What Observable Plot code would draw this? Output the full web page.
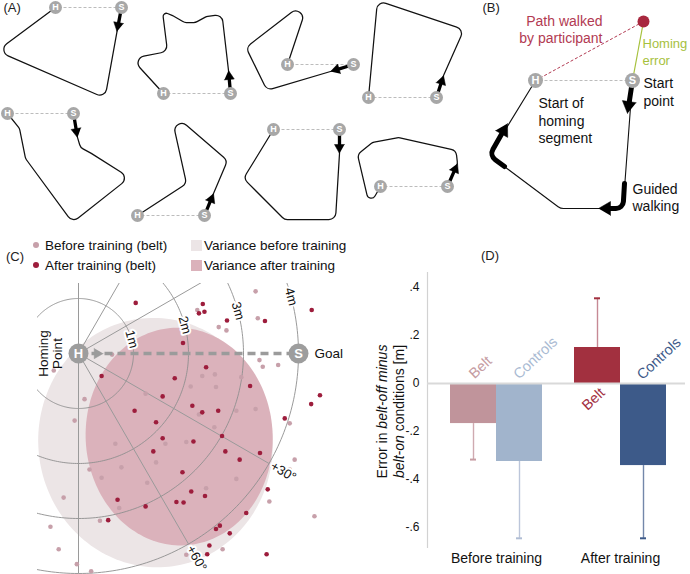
<!DOCTYPE html>
<html>
<head>
<meta charset="utf-8">
<script src="https://cdn.jsdelivr.net/npm/d3@7"></script>
<script src="https://cdn.jsdelivr.net/npm/@observablehq/plot@0.6"></script>
<style>
  html, body { margin: 0; padding: 0; background: #fff; }
  #fig { position: relative; width: 690px; height: 574px; overflow: hidden;
         font-family: "Liberation Sans", Arial, Helvetica, sans-serif; color: #111; }
  .layer { position: absolute; }
  .layer svg { display: block; max-width: none; }
  .lbl { position: absolute; white-space: nowrap; line-height: 1; }
  .sw { position: absolute; }
</style>
</head>
<body>
<div id="fig"></div>
<script>
// ======================= DATA =======================
// Panel A – eight guided routes (schematic drawing units)
const routeStart = [[121,7],[230,93],[353,64],[436,97],[73,113],[204,215],[339,129],[447,186]];   // S
const routeHome  = [[55,7],[163,93],[287,64],[368,97],[7,113],[137,215],[273,129],[380,186]];     // H
const routeArrowTip = [[116.5,31],[228,70],[330,71],[443,75],[77,137],[213,193],[339,153],[457,163]];
const routeBends = [
  [[104.5,97.5],[-3.5,50.5]],
  [[221.5,14],[206,16],[195,22],[184,22],[172,15],[162,11],[167,51],[131,58]],
  [[266.5,89.7],[245.5,47],[309,-2]],
  [[463.5,29],[377,0]],
  [[80,147],[91,153],[129,177],[72,222],[25,158],[19,128]],
  [[227,160],[170,111],[186,183]],
  [[335,219],[284,219],[243,178]],
  [[455.5,150],[398,137],[372,142],[357,154],[369,205]]
];

// Panel B – explanatory route (schematic drawing units)
const bStart = [632,80];
const bHome = [535,80];
const bEnd = [643,21];
const bBends = [[622.5,208],[560,208],[489,155]];
const bGuidedArrows = [
  [[632,80],[627,113]],
  [[624,183],[622.5,208],[598,208]],
  [[504,166],[489,155],[507,123]]
];

// Panel C – homing end points relative to the homing point, metres
const beforeDots = [
  [0.61,0.02],[-0.45,0.31],[2.04,0.60],[1.22,0.73],[0.11,0.83],[-0.07,1.22],[3.22,-1.13],[2.16,-0.79],
  [3.26,-0.64],[2.55,-0.48],[2.69,-0.42],[3.29,0.12],[3.35,0.24],[3.63,0.21],[2.48,0.38],[2.25,0.41],
  [2.50,0.61],[2.96,0.43],[2.19,1.11],[2.87,1.04],[3.22,1.01],[3.84,1.27],[2.47,1.34],[1.58,1.64],
  [1.96,1.61],[0.67,1.64],[1.41,1.98],[0.78,2.07],[0.20,2.11],[0.42,2.26],[1.25,2.35],[-0.27,2.62],
  [0.74,2.81],[0.39,3.04],[-0.51,3.15],[-0.36,3.56],[1.96,3.66],[-0.03,3.83],[0.23,3.96],[3.93,1.93],
  [3.84,2.11],[2.87,2.28],[2.32,2.45],[3.47,2.69],[4.29,2.96],[2.62,3.56]
];
const afterDots = [
  [1.04,-0.92],[1.90,-0.19],[0.42,0.41],[1.75,0.45],[1.53,0.78],[2.07,0.95],[1.02,1.04],[1.41,1.25],
  [2.26,-0.90],[2.19,-0.73],[2.29,-0.76],[4.24,-0.79],[2.70,-0.60],[3.39,-0.59],[2.32,0.25],[3.12,0.59],
  [4.39,0.76],[4.23,0.92],[2.25,1.07],[2.54,1.04],[3.75,1.18],[1.53,1.54],[2.09,1.60],[1.36,1.78],
  [1.89,2.16],[2.05,2.51],[0.71,2.66],[1.78,2.70],[1.91,2.71],[1.22,2.78],[0.54,3.03],[2.61,1.50],
  [2.67,1.78],[3.30,1.81],[2.93,1.93],[2.30,2.59],[3.44,2.47],[3.05,2.90],[2.57,3.13],[2.50,3.19],
  [2.75,3.27],[2.38,3.49],[2.34,3.65],[3.42,3.65]
];
const varianceBefore = {cx: 1.40, cy: 1.62, rx: 2.13, ry: 2.27, tilt: -8};
const varianceAfter  = {cx: 1.83, cy: 1.51, rx: 1.70, ry: 1.98, tilt: -3};
const ringRadii = [1, 2, 3, 4];
const radialAngles = [-90, -60, -30, 30, 60, 90];
const angleTickLabels = [30, 60];
const goalDistance = 4;

// Panel D – error difference (belt-off minus belt-on), metres
const dPhases = ["Before training", "After training"];
const dGroups = ["Belt", "Controls"];
const dMean   = [-0.167, -0.325, 0.150, -0.342];   // Before/Belt, Before/Controls, After/Belt, After/Controls
const dErrEnd = [-0.317, -0.645, 0.355, -0.645];
const dYTicks = [0.4, 0.2, 0, -0.2, -0.4, -0.6];

// ======================= HELPERS =======================
const FONT = '"Liberation Sans", Arial, Helvetica, sans-serif';
const deg = Math.PI / 180;

function roundedCurve(radius) {
  return function (context) {
    let pts = [];
    return {
      areaStart() {}, areaEnd() {},
      lineStart() { pts = []; },
      point(x, y) { pts.push([+x, +y]); },
      lineEnd() {
        const n = pts.length;
        if (!n) return;
        context.moveTo(pts[0][0], pts[0][1]);
        for (let i = 1; i < n - 1; i++) {
          const [x0, y0] = pts[i - 1], [x1, y1] = pts[i], [x2, y2] = pts[i + 1];
          const l1 = Math.hypot(x0 - x1, y0 - y1), l2 = Math.hypot(x2 - x1, y2 - y1);
          if (l1 < 1e-6 || l2 < 1e-6) { context.lineTo(x1, y1); continue; }
          const c = ((x0 - x1) * (x2 - x1) + (y0 - y1) * (y2 - y1)) / (l1 * l2);
          const ang = Math.acos(Math.max(-1, Math.min(1, c)));
          const r = Math.min(radius, (Math.min(l1, l2) / 2) * Math.tan(ang / 2));
          if (ang > Math.PI - 1e-3 || !(r > 0.05)) context.lineTo(x1, y1);
          else context.arcTo(x1, y1, x2, y2, r);
        }
        if (n > 1) context.lineTo(pts[n - 1][0], pts[n - 1][1]);
      }
    };
  };
}

function arrowParts(id, pts, headLen, headWidth) {
  const n = pts.length, [tx, ty] = pts[n - 1], [px, py] = pts[n - 2];
  const L = Math.hypot(tx - px, ty - py), ux = (tx - px) / L, uy = (ty - py) / L;
  const bx = tx - ux * headLen, by = ty - uy * headLen;
  const shaft = pts.slice(0, n - 1).concat([[bx + ux * 1.5, by + uy * 1.5]]).map(([x, y]) => ({id, x, y}));
  const hw = headWidth / 2;
  const head = [[tx, ty], [bx - uy * hw, by + ux * hw], [bx + uy * hw, by - ux * hw]].map(([x, y]) => ({id, x, y}));
  return {shaft, head};
}

function halo(data, opts) {
  return [
    Plot.text(data, {...opts, fill: "white", stroke: "white", strokeWidth: 4, strokeLinejoin: "round"}),
    Plot.text(data, opts)
  ];
}

const fig = document.getElementById("fig");
function layer(el, left, top, w, h) {
  const d = document.createElement("div");
  d.className = "layer";
  d.style.left = left + "px"; d.style.top = top + "px";
  d.style.width = w + "px"; d.style.height = h + "px";
  d.appendChild(el);
  fig.appendChild(d);
}
function html(tag, cls, css, content) {
  const e = document.createElement(tag);
  e.className = cls;
  e.setAttribute("style", css);
  if (content != null) e.innerHTML = content;
  fig.appendChild(e);
  return e;
}

// ======================= PANELS A + B =======================
const routePts = routeStart.flatMap((s, i) =>
  [s, routeArrowTip[i], ...routeBends[i], routeHome[i]].map(([x, y]) => ({id: i, x, y})));
const aArrows = routeStart.map((s, i) => arrowParts(i, [s, routeArrowTip[i]], 9, 10));
const bPathPts = [bStart, ...bBends, bHome].map(([x, y]) => ({id: 0, x, y}));
const bArrows = bGuidedArrows.map((p, i) => arrowParts(i, p, 12, 14));

const abMarkers = [
  ...routeStart.map(([x, y]) => ({x, y, t: "S"})),
  ...routeHome.map(([x, y]) => ({x, y, t: "H"}))
];
const bMarkers = [{x: bStart[0], y: bStart[1], t: "S"}, {x: bHome[0], y: bHome[1], t: "H"}];
const purple = "#b23a52", green = "#a6c13d", grayDot = "#a7a7a7";

const abPlot = Plot.plot({
  width: 690, height: 230, marginTop: 0, marginRight: 0, marginBottom: 0, marginLeft: 0,
  x: {domain: [0, 690], range: [0, 690], axis: null},
  y: {domain: [0, 230], range: [0, 230], axis: null},
  style: {fontFamily: FONT, background: "transparent", overflow: "visible"},
  marks: [
    // Panel A
    Plot.link(routeStart.map((s, i) => ({s, h: routeHome[i]})), {
      x1: d => d.s[0], y1: d => d.s[1], x2: d => d.h[0], y2: d => d.h[1],
      stroke: "#bcbcbc", strokeWidth: 1, strokeDasharray: "3,2"}),
    Plot.line(routePts, {x: "x", y: "y", z: "id", curve: roundedCurve(7), stroke: "#111", strokeWidth: 1.25}),
    Plot.line(aArrows.flatMap(a => a.shaft), {x: "x", y: "y", z: "id", stroke: "#000", strokeWidth: 3.3}),
    Plot.line(aArrows.flatMap(a => a.head), {x: "x", y: "y", z: "id", fill: "#000", stroke: "#000", strokeWidth: 0.5}),
    Plot.dot(abMarkers, {x: "x", y: "y", r: 6.5, fill: grayDot, stroke: "none"}),
    Plot.text(abMarkers, {x: "x", y: "y", text: "t", fill: "white", fontWeight: "bold", fontSize: 9}),
    Plot.text(["(A)"], {frameAnchor: "top-left", dx: 3, dy: 2, textAnchor: "start", lineAnchor: "top", fontSize: 13, fill: "#222"}),

    // Panel B
    Plot.link([0], {x1: bStart[0], y1: bStart[1], x2: bHome[0], y2: bHome[1], stroke: "#bcbcbc", strokeWidth: 1, strokeDasharray: "3,2"}),
    Plot.link([0], {x1: bHome[0], y1: bHome[1], x2: bEnd[0], y2: bEnd[1], stroke: purple, strokeWidth: 1, strokeDasharray: "3,2"}),
    Plot.link([0], {x1: bStart[0], y1: bStart[1], x2: bEnd[0], y2: bEnd[1], stroke: green, strokeWidth: 1.2}),
    Plot.line(bPathPts, {x: "x", y: "y", z: "id", curve: roundedCurve(9), stroke: "#111", strokeWidth: 1.1}),
    Plot.line(bArrows.flatMap(a => a.shaft), {x: "x", y: "y", z: "id", curve: roundedCurve(8), stroke: "#000", strokeWidth: 5}),
    Plot.line(bArrows.flatMap(a => a.head), {x: "x", y: "y", z: "id", fill: "#000", stroke: "#000", strokeWidth: 0.5}),
    Plot.dot([bEnd], {x: d => d[0], y: d => d[1], r: 6, fill: "#a8283f"}),
    Plot.dot(bMarkers, {x: "x", y: "y", r: 7.5, fill: grayDot, stroke: "none"}),
    Plot.text(bMarkers, {x: "x", y: "y", text: "t", fill: "white", fontWeight: "bold", fontSize: 11}),
    Plot.text(["Path walked\nby participant"], {x: bEnd[0], y: bEnd[1], dx: -41, dy: 8, textAnchor: "end", fill: purple, fontSize: 14, lineHeight: 1.2}),
    Plot.text(["Homing\nerror"], {x: bStart[0], y: bStart[1], dx: 10, dy: -29.5, textAnchor: "start", fill: green, fontSize: 13, lineHeight: 1.28}),
    Plot.text(["Start\npoint"], {x: bStart[0], y: bStart[1], dx: 11, dy: 11, textAnchor: "start", fill: "#111", fontSize: 14, lineHeight: 1.25}),
    Plot.text(["Start of\nhoming\nsegment"], {x: bHome[0], y: bHome[1], dx: 3, dy: 39.5, textAnchor: "start", fill: "#111", fontSize: 14, lineHeight: 1.25}),
    Plot.text(["Guided\nwalking"], {x: bBends[0][0], y: bBends[0][1], dx: 9.5, dy: -11.5, textAnchor: "start", fill: "#111", fontSize: 14, lineHeight: 1.2}),
    Plot.text(["(B)"], {frameAnchor: "top-left", dx: 482, dy: 2, textAnchor: "start", lineAnchor: "top", fontSize: 13, fill: "#222"})
  ]
});
layer(abPlot, 0, 0, 690, 230);

// ======================= PANEL C =======================
const ringPts = ringRadii.flatMap(r => d3.range(0, 361, 1).map(a => ({r, x: r * Math.cos(a * deg), y: r * Math.sin(a * deg)})));
const ellipsePts = e => d3.range(0, 361, 2).map(a => {
  const c = Math.cos(a * deg), s = Math.sin(a * deg), ct = Math.cos(e.tilt * deg), st = Math.sin(e.tilt * deg);
  const ex = e.rx * c, ey = e.ry * s;
  return {x: e.cx + ex * ct - ey * st, y: e.cy + ex * st + ey * ct};
});
const cMarkers = [{x: 0, y: 0, t: "H"}, {x: goalDistance, y: 0, t: "S"}];
const cHead = arrowParts(0, [[0, 0], [0.45, 0]], 0.165, 0.19).head;
const colBeforeDot = "#c7a0aa", colAfterDot = "#9d1d3c", colVarBefore = "#ece5e6", colVarAfter = "#dbb2bb";

const cPlot = Plot.plot({
  width: 360, height: 344, marginLeft: 37, marginTop: 53, marginRight: 0, marginBottom: 0,
  x: {domain: [-41 / 55, 282 / 55], range: [37, 360], axis: null},
  y: {domain: [-70 / 55, 291 / 55 - 70 / 55], range: [53, 344], axis: null},
  style: {fontFamily: FONT, background: "transparent", overflow: "visible"},
  marks: [
    Plot.line(ellipsePts(varianceBefore), {x: "x", y: "y", fill: colVarBefore, stroke: "none", clip: true}),
    Plot.line(ellipsePts(varianceAfter), {x: "x", y: "y", fill: colVarAfter, stroke: "none", clip: true}),
    Plot.line(ringPts, {x: "x", y: "y", z: "r", stroke: "#8e8e8e", strokeWidth: 0.9, clip: true}),
    Plot.link(radialAngles, {x1: () => 0, y1: () => 0,
      x2: a => goalDistance * Math.cos(a * deg), y2: a => goalDistance * Math.sin(a * deg),
      stroke: "#9a9a9a", strokeWidth: 1, clip: true}),
    Plot.dot(beforeDots, {x: d => d[0], y: d => d[1], r: 2.3, fill: colBeforeDot}),
    Plot.dot(afterDots, {x: d => d[0], y: d => d[1], r: 2.3, fill: colAfterDot}),
    Plot.link([goalDistance], {x1: () => 0, y1: () => 0, x2: d => d, y2: () => 0,
      stroke: "#9b9b9b", strokeWidth: 3.5, strokeDasharray: "8,5"}),
    Plot.line(cHead, {x: "x", y: "y", z: "id", fill: "#9b9b9b", stroke: "#9b9b9b", strokeWidth: 0.5}),
    Plot.dot(cMarkers, {x: "x", y: "y", r: 10, fill: "#9d9d9d", stroke: "none"}),
    Plot.text(cMarkers, {x: "x", y: "y", text: "t", fill: "white", fontWeight: "bold", fontSize: 13}),
    ...halo(ringRadii, {x: r => r * Math.cos(-15 * deg), y: r => r * Math.sin(-15 * deg),
      text: r => `${r}m`, rotate: 75, fontSize: 13, fill: "#111"}),
    ...halo(angleTickLabels, {x: a => 4.3 * Math.cos(a * deg), y: a => 4.3 * Math.sin(a * deg),
      text: a => `+${a}°`, rotate: a => a, fontSize: 13, fill: "#111"}),
    Plot.text(["Homing\nPoint"], {x: () => 0, y: () => 0, dx: -28, rotate: -90, fontSize: 13.5, lineHeight: 1.05, fill: "#111"}),
    Plot.text(["Goal"], {x: () => goalDistance, y: () => 0, dx: 16, textAnchor: "start", fontSize: 13.5, fill: "#111"})
  ]
});
layer(cPlot, 0, 230, 360, 344);

// Panel C legend + label
html("div", "lbl", "left:6px; top:250px; font-size:13px; color:#222;", "(C)");
html("div", "sw", `left:33px; top:242px; width:6px; height:6px; border-radius:50%; background:${colBeforeDot};`);
html("div", "sw", `left:33px; top:262px; width:6px; height:6px; border-radius:50%; background:${colAfterDot};`);
html("div", "lbl", "left:45px; top:238.5px; font-size:13.5px;", "Before training (belt)");
html("div", "lbl", "left:45px; top:258.5px; font-size:13.5px;", "After training (belt)");
html("div", "sw", `left:191px; top:239.5px; width:11px; height:11px; background:${colVarBefore};`);
html("div", "sw", `left:191px; top:259.5px; width:11px; height:11px; background:${colVarAfter};`);
html("div", "lbl", "left:204px; top:238.5px; font-size:13.5px;", "Variance before training");
html("div", "lbl", "left:204px; top:258.5px; font-size:13.5px;", "Variance after training");

// ======================= PANEL D =======================
const dRows = dMean.map((v, i) => ({k: i, phase: dPhases[Math.floor(i / 2)], group: dGroups[i % 2], mean: v, err: dErrEnd[i]}));
const barFill  = ["#c0949b", "#a1b4cc", "#a2303f", "#3d5a89"];
const errFill  = ["#cfaab0", "#bcc6da", "#c68995", "#7387aa"];
const capFill  = ["#c79da3", "#b0bdd4", "#a2303f", "#3d5a89"];
const labFill  = ["#c59ca2", "#a9bad2", "#a2303f", "#3d5a89"];
const barDx = d => (d.group === dGroups[0] ? -23 : 23);
const labelSpot = [{dx: -16, y: 0.067}, {dx: 39, y: 0.106}, {dx: -27, y: -0.065}, {dx: 38.5, y: 0.104}];
const fmtTick = d => d === 0 ? "0" : (d < 0 ? "-" : "") + d3.format(".1f")(Math.abs(d)).replace(/^0\./, ".");
const axisMarks = typeof Plot.axisY === "function";

const dPlot = Plot.plot({
  width: 330, height: 344, marginLeft: 67, marginRight: 5, marginTop: 42, marginBottom: 26,
  x: {domain: dPhases, range: [75.65, 320.8], paddingInner: 0.6305, paddingOuter: 0.3, align: 0.5,
      label: null, tickSize: 0, tickPadding: 5},
  y: {domain: [-0.6875, 0.4625], ticks: dYTicks, label: null, tickSize: 0, tickPadding: 8, tickFormat: fmtTick},
  style: {fontFamily: FONT, fontSize: axisMarks ? "13px" : "12.5px", background: "transparent", color: "#111", overflow: "visible"},
  marks: [
    ...(axisMarks ? [
      Plot.axisY(dYTicks, {tickSize: 0, tickPadding: 8, tickFormat: fmtTick, fontSize: 12, label: null}),
      Plot.axisX({tickSize: 0, tickPadding: 5, fontSize: 14, label: null})
    ] : []),
    Plot.ruleX([dPhases[0]], {dx: -69, stroke: "#d2d2d2", strokeWidth: 1.2}),
    ...dRows.map(d => Plot.ruleX([d], {x: "phase", y1: "mean", y2: "err", dx: barDx(d), stroke: errFill[d.k], strokeWidth: 1.4})),
    ...dRows.map(d => Plot.tickY([d], {x: "phase", y: "err", dx: barDx(d), insetLeft: 20, insetRight: 20, stroke: capFill[d.k], strokeWidth: 2})),
    ...dRows.map(d => Plot.barY([d], {x: "phase", y: "mean", dx: barDx(d), fill: barFill[d.k]})),
    Plot.ruleY([0], {stroke: "#d9d9d9", strokeWidth: 2}),
    ...dRows.map(d => Plot.text([d], {x: "phase", y: () => labelSpot[d.k].y, dx: labelSpot[d.k].dx, text: "group",
      rotate: -43, fill: labFill[d.k], fontSize: 14.5}))
  ]
});
layer(dPlot, 360, 230, 330, 344);

html("div", "lbl", "left:481px; top:249px; font-size:13px; color:#222;", "(D)");
html("div", "lbl",
  "left:290px; top:394.5px; width:200px; text-align:center; font-size:14px; line-height:16.5px; color:#111;" +
  "transform: rotate(-90deg); transform-origin: 100px 16.5px;",
  "Error in <i>belt-off minus</i><br><i>belt-on</i> conditions [m]");
</script>
</body>
</html>
